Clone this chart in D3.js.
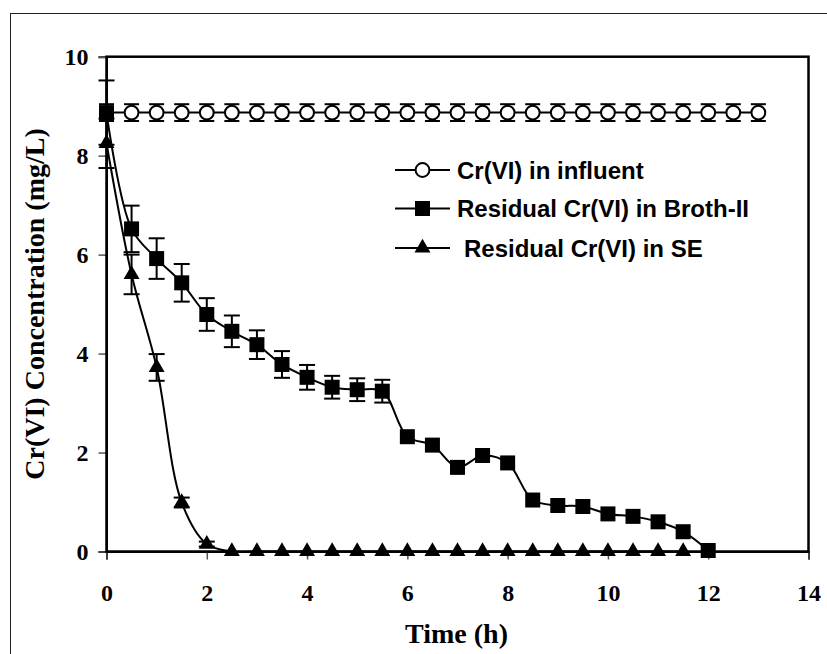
<!DOCTYPE html>
<html>
<head>
<meta charset="utf-8">
<script src="https://cdn.jsdelivr.net/npm/d3@7"></script>
<style>
  body { margin: 0; background: #fff; }
  svg { display: block; }
</style>
</head>
<body>
<div id="chart"></div>
<script>
// data
var timeInfluent = [0, 0.5, 1, 1.5, 2, 2.5, 3, 3.5, 4, 4.5, 5, 5.5, 6, 6.5, 7, 7.5, 8, 8.5, 9, 9.5, 10, 10.5, 11, 11.5, 12, 12.5, 13];
var influent = [8.87, 8.87, 8.87, 8.87, 8.87, 8.87, 8.87, 8.87, 8.87, 8.87, 8.87, 8.87, 8.87, 8.87, 8.87, 8.87, 8.87, 8.87, 8.87, 8.87, 8.87, 8.87, 8.87, 8.87, 8.87, 8.87, 8.87];
var influentErr = [0.17, 0.17, 0.17, 0.17, 0.17, 0.17, 0.17, 0.17, 0.17, 0.17, 0.17, 0.17, 0.17, 0.17, 0.17, 0.17, 0.17, 0.17, 0.17, 0.17, 0.17, 0.17, 0.17, 0.17, 0.17, 0.17, 0.17];

var timeBroth = [0, 0.5, 1, 1.5, 2, 2.5, 3, 3.5, 4, 4.5, 5, 5.5, 6, 6.5, 7, 7.5, 8, 8.5, 9, 9.5, 10, 10.5, 11, 11.5, 12];
var broth = [8.87, 6.52, 5.92, 5.43, 4.79, 4.45, 4.18, 3.78, 3.52, 3.32, 3.27, 3.24, 2.32, 2.15, 1.70, 1.94, 1.79, 1.04, 0.93, 0.91, 0.76, 0.71, 0.60, 0.40, 0.02];
var brothErr = [0.65, 0.47, 0.41, 0.38, 0.33, 0.32, 0.29, 0.27, 0.25, 0.23, 0.23, 0.23, 0, 0, 0, 0, 0, 0, 0, 0, 0, 0, 0, 0, 0];

var timeSE = [0, 0.5, 1, 1.5, 2, 2.5, 3, 3.5, 4, 4.5, 5, 5.5, 6, 6.5, 7, 7.5, 8, 8.5, 9, 9.5, 10, 10.5, 11, 11.5];
var se = [8.25, 5.6, 3.72, 0.99, 0.15, 0, 0, 0, 0, 0, 0, 0, 0, 0, 0, 0, 0, 0, 0, 0, 0, 0, 0, 0];
var seErr = [0.5, 0.4, 0.27, 0.1, 0.05, 0, 0, 0, 0, 0, 0, 0, 0, 0, 0, 0, 0, 0, 0, 0, 0, 0, 0, 0];

var xTicks = [0, 2, 4, 6, 8, 10, 12, 14];
var yTicks = [0, 2, 4, 6, 8, 10];

var legendLabels = ["Cr(VI) in influent", "Residual Cr(VI) in Broth-II", "Residual Cr(VI) in SE"];

// size and location of the chart
var svgWidth = 827;
var svgHeight = 654;
var margin = { top: 56.7, right: 18.5, bottom: 102.5, left: 106.5 };
var width = svgWidth - margin.left - margin.right;
var height = svgHeight - margin.top - margin.bottom;

var svg = d3.select("#chart")
  .append("svg")
  .attr("width", svgWidth)
  .attr("height", svgHeight);

// outer frame of the picture
svg.append("rect")
  .attr("x", 10.5)
  .attr("y", 13.5)
  .attr("width", 830)
  .attr("height", 660)
  .attr("fill", "none")
  .attr("stroke", "#222")
  .attr("stroke-width", 1);

var chartGroup = svg.append("g")
  .attr("transform", `translate(${margin.left}, ${margin.top})`);

var x = d3.scaleLinear().domain([0, 14]).range([0, width]);
var y = d3.scaleLinear().domain([0, 10]).range([height, 0]);

// axes
var xAxis = chartGroup.append("g")
  .attr("transform", `translate(0, ${height})`)
  .call(d3.axisBottom(x).tickValues(xTicks).tickSize(8).tickPadding(24).tickFormat(d3.format("d")));

var yAxis = chartGroup.append("g")
  .call(d3.axisLeft(y).tickValues(yTicks).tickSize(8).tickPadding(10).tickFormat(d3.format("d")));

[xAxis, yAxis].forEach(function(ax) {
  ax.select(".domain").attr("stroke-width", 2).attr("stroke", "#000");
  ax.selectAll(".tick line").attr("stroke", "#555").attr("stroke-width", 1.5);
  ax.selectAll(".tick text")
    .attr("fill", "#000")
    .style("font-family", "'Liberation Serif', 'Times New Roman', serif")
    .style("font-weight", "bold")
    .style("font-size", "24px");
});

// plot box
chartGroup.append("rect")
  .attr("width", width)
  .attr("height", height)
  .attr("fill", "none")
  .attr("stroke", "#000")
  .attr("stroke-width", 2.5);

// error bars
function drawErrors(times, vals, errs, capHalf) {
  var g = chartGroup.append("g").attr("stroke", "#000").attr("stroke-width", 2);
  times.forEach(function(t, i) {
    if (!errs[i]) return;
    var cx = x(t);
    var top = y(vals[i] + errs[i]);
    var bot = y(vals[i] - errs[i]);
    g.append("line").attr("x1", cx).attr("x2", cx).attr("y1", top).attr("y2", bot);
    g.append("line").attr("x1", cx - capHalf).attr("x2", cx + capHalf).attr("y1", top).attr("y2", top);
    g.append("line").attr("x1", cx - capHalf).attr("x2", cx + capHalf).attr("y1", bot).attr("y2", bot);
  });
}
drawErrors(timeInfluent, influent, influentErr, 7.5);
drawErrors(timeBroth, broth, brothErr, 8);
drawErrors(timeSE, se, seErr, 8);

// lines
function toPoints(times, vals) {
  return times.map(function(t, i) { return [t, vals[i]]; });
}
var straight = d3.line().x(d => x(d[0])).y(d => y(d[1]));
var smooth = d3.line().x(d => x(d[0])).y(d => y(d[1])).curve(d3.curveCatmullRom.alpha(0.5));

chartGroup.append("path")
  .attr("d", straight(toPoints(timeInfluent, influent)))
  .attr("fill", "none").attr("stroke", "#000").attr("stroke-width", 2);
chartGroup.append("path")
  .attr("d", smooth(toPoints(timeBroth, broth)))
  .attr("fill", "none").attr("stroke", "#000").attr("stroke-width", 2);
chartGroup.append("path")
  .attr("d", smooth(toPoints(timeSE, se)))
  .attr("fill", "none").attr("stroke", "#000").attr("stroke-width", 2);

// markers
var circleSym = d3.symbol().type(d3.symbolCircle).size(150);
var squareSym = d3.symbol().type(d3.symbolSquare).size(225);
var triSym = d3.symbol().type(d3.symbolTriangle).size(110);

chartGroup.selectAll(".sq")
  .data(toPoints(timeBroth, broth))
  .enter().append("path")
  .attr("class", "sq")
  .attr("d", squareSym)
  .attr("transform", d => `translate(${x(d[0])}, ${y(d[1])})`)
  .attr("fill", "#000");

chartGroup.selectAll(".tri")
  .data(toPoints(timeSE, se))
  .enter().append("path")
  .attr("class", "tri")
  .attr("d", triSym)
  .attr("transform", d => `translate(${x(d[0])}, ${y(d[1])})`)
  .attr("fill", "#000");

// first influent point sits under the square at t = 0
chartGroup.selectAll(".circ")
  .data(toPoints(timeInfluent, influent).slice(1))
  .enter().append("path")
  .attr("class", "circ")
  .attr("d", circleSym)
  .attr("transform", d => `translate(${x(d[0])}, ${y(d[1])})`)
  .attr("fill", "#fff")
  .attr("stroke", "#000")
  .attr("stroke-width", 2);

// legend
var legendRows = [170, 208.5, 248];
var legendTextX = [457, 457, 464];
var legendSyms = [circleSym, squareSym, triSym];
legendLabels.forEach(function(label, i) {
  var g = svg.append("g");
  g.append("line")
    .attr("x1", 395).attr("x2", 450)
    .attr("y1", legendRows[i]).attr("y2", legendRows[i])
    .attr("stroke", "#000").attr("stroke-width", 2);
  g.append("path")
    .attr("d", legendSyms[i])
    .attr("transform", `translate(422.5, ${legendRows[i]})`)
    .attr("fill", i === 0 ? "#fff" : "#000")
    .attr("stroke", i === 0 ? "#000" : "none")
    .attr("stroke-width", 2);
  g.append("text")
    .attr("x", legendTextX[i])
    .attr("y", legendRows[i])
    .attr("dy", "0.36em")
    .style("font-family", "'Liberation Sans', Arial, sans-serif")
    .style("font-weight", "bold")
    .style("font-size", "24px")
    .text(label);
});

// axis titles
svg.append("text")
  .attr("x", margin.left + width / 2 - 1)
  .attr("y", 643)
  .attr("text-anchor", "middle")
  .style("font-family", "'Liberation Serif', 'Times New Roman', serif")
  .style("font-weight", "bold")
  .style("font-size", "28px")
  .text("Time (h)");

svg.append("text")
  .attr("transform", "translate(44, 304) rotate(-90)")
  .attr("text-anchor", "middle")
  .style("font-family", "'Liberation Serif', 'Times New Roman', serif")
  .style("font-weight", "bold")
  .style("font-size", "28px")
  .text("Cr(VI) Concentration (mg/L)");
</script>
</body>
</html>
